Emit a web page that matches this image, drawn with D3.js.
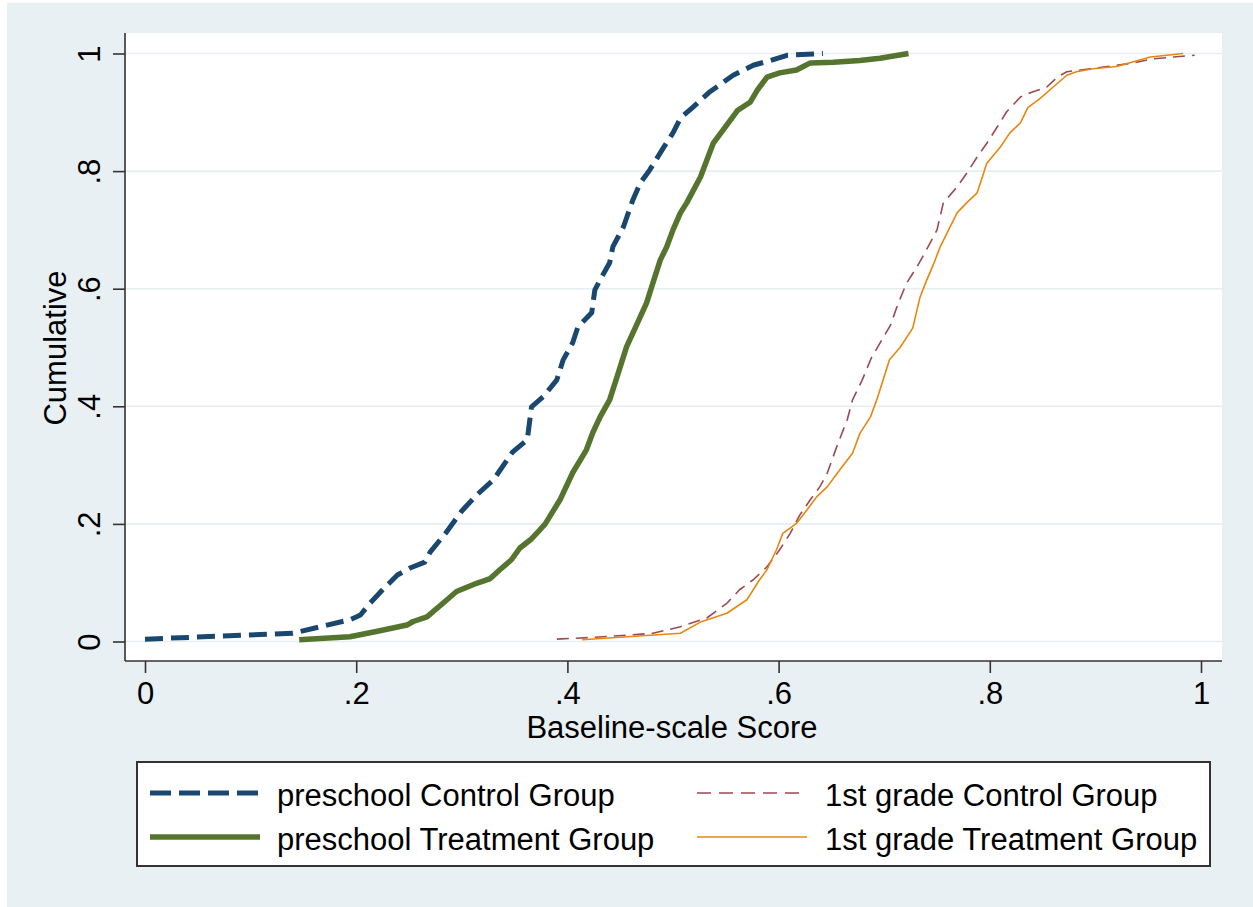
<!DOCTYPE html>
<html>
<head>
<meta charset="utf-8">
<script src="https://cdn.jsdelivr.net/npm/d3@7"></script>
<style>
  html, body { margin: 0; padding: 0; background: #ffffff; }
  svg { display: block; }
  text { font-family: "Liberation Sans", Arial, Helvetica, sans-serif; fill: #000; }
</style>
</head>
<body>
<svg id="chart" width="1253" height="907"></svg>
<script>
// ---- Data ----
const seriesNames = ["preschool Control Group", "preschool Treatment Group",
                     "1st grade Control Group", "1st grade Treatment Group"];

const xTicks = [0, 0.2, 0.4, 0.6, 0.8, 1];
const yTicks = [0, 0.2, 0.4, 0.6, 0.8, 1];
const xTickLabels = ["0", ".2", ".4", ".6", ".8", "1"];
const yTickLabels = ["0", ".2", ".4", ".6", ".8", "1"];

// preschool Control Group
const preCtrlX = [0.000, 0.140, 0.194, 0.204, 0.213, 0.225, 0.239, 0.251, 0.265, 0.270, 0.285, 0.300,
                  0.314, 0.330, 0.348, 0.362, 0.366, 0.377, 0.390, 0.396, 0.405, 0.410, 0.423, 0.426,
                  0.431, 0.440, 0.443, 0.453, 0.462, 0.469, 0.478, 0.491, 0.500, 0.507, 0.519, 0.535,
                  0.557, 0.576, 0.592, 0.608, 0.633, 0.642];
const preCtrlY = [0.004, 0.014, 0.037, 0.045, 0.065, 0.088, 0.113, 0.125, 0.135, 0.152, 0.185, 0.222,
                  0.249, 0.275, 0.322, 0.343, 0.399, 0.416, 0.445, 0.479, 0.508, 0.535, 0.559, 0.598,
                  0.615, 0.644, 0.671, 0.705, 0.751, 0.780, 0.802, 0.840, 0.865, 0.890, 0.909, 0.935,
                  0.963, 0.980, 0.988, 0.997, 0.999, 1.000];

// preschool Treatment Group
const preTrtX = [0.146, 0.194, 0.219, 0.248, 0.254, 0.267, 0.286, 0.295, 0.314, 0.327, 0.336, 0.347,
                 0.355, 0.365, 0.374, 0.379, 0.393, 0.405, 0.418, 0.424, 0.431, 0.440, 0.447, 0.456,
                 0.469, 0.475, 0.481, 0.488, 0.494, 0.500, 0.507, 0.513, 0.526, 0.538, 0.547, 0.561,
                 0.573, 0.580, 0.589, 0.601, 0.617, 0.630, 0.652, 0.677, 0.696, 0.723];
const preTrtY = [0.003, 0.008, 0.017, 0.028, 0.034, 0.042, 0.071, 0.085, 0.099, 0.107, 0.122, 0.139,
                 0.159, 0.173, 0.190, 0.200, 0.241, 0.287, 0.326, 0.355, 0.382, 0.411, 0.450, 0.501,
                 0.552, 0.576, 0.610, 0.649, 0.671, 0.700, 0.729, 0.746, 0.790, 0.847, 0.869, 0.903,
                 0.917, 0.938, 0.960, 0.967, 0.972, 0.984, 0.985, 0.988, 0.992, 1.000];

// 1st grade Control Group
const g1CtrlX = [0.390, 0.434, 0.481, 0.507, 0.532, 0.551, 0.563, 0.576, 0.589, 0.601, 0.611, 0.620,
                 0.630, 0.639, 0.646, 0.655, 0.665, 0.670, 0.679, 0.688, 0.706, 0.712, 0.721, 0.731,
                 0.740, 0.750, 0.756, 0.769, 0.778, 0.788, 0.797, 0.807, 0.816, 0.829, 0.841, 0.854,
                 0.864, 0.873, 0.895, 0.917, 0.936, 0.955, 0.974, 0.994];
const g1CtrlY = [0.004, 0.008, 0.014, 0.025, 0.040, 0.065, 0.088, 0.105, 0.127, 0.156, 0.184, 0.215,
                 0.241, 0.263, 0.286, 0.331, 0.377, 0.411, 0.444, 0.483, 0.538, 0.569, 0.609, 0.637,
                 0.666, 0.700, 0.746, 0.773, 0.796, 0.824, 0.847, 0.875, 0.901, 0.926, 0.935, 0.943,
                 0.960, 0.969, 0.974, 0.979, 0.984, 0.991, 0.994, 0.997];

// 1st grade Treatment Group
const g1TrtX = [0.414, 0.507, 0.526, 0.551, 0.570, 0.582, 0.589, 0.598, 0.604, 0.617, 0.627, 0.636,
                0.646, 0.658, 0.670, 0.677, 0.687, 0.693, 0.705, 0.715, 0.727, 0.734, 0.739, 0.747,
                0.753, 0.761, 0.769, 0.778, 0.788, 0.793, 0.797, 0.810, 0.819, 0.829, 0.836, 0.848,
                0.860, 0.873, 0.882, 0.898, 0.920, 0.936, 0.952, 0.968, 0.983];
const g1TrtY = [0.003, 0.014, 0.033, 0.048, 0.071, 0.105, 0.122, 0.156, 0.184, 0.201, 0.224, 0.246,
                0.263, 0.292, 0.320, 0.354, 0.382, 0.411, 0.479, 0.500, 0.533, 0.586, 0.609, 0.643,
                0.671, 0.700, 0.729, 0.746, 0.763, 0.790, 0.813, 0.841, 0.865, 0.882, 0.908, 0.924,
                0.943, 0.963, 0.969, 0.974, 0.978, 0.986, 0.994, 0.997, 1.000];

// ---- Drawing ----
const W = 1253, H = 907;
const FS = "31px";
const svg = d3.select("#chart");

// outer background
svg.append("rect").attr("x", 0).attr("y", 0).attr("width", W).attr("height", H).attr("fill", "#ffffff");
svg.append("rect").attr("x", 7).attr("y", 3).attr("width", W - 7).attr("height", H - 3).attr("fill", "#e9f0f3");

const plot = { left: 125, right: 1222, top: 33, bottom: 661 };

const x = d3.scaleLinear().domain([0, 1]).range([145, 1201]);
const y = d3.scaleLinear().domain([0, 1]).range([641.5, 53.5]);

// plot region
svg.append("rect")
  .attr("x", plot.left).attr("y", plot.top)
  .attr("width", plot.right - plot.left).attr("height", plot.bottom - plot.top)
  .attr("fill", "#ffffff");

// gridlines
svg.append("g").selectAll("line").data(yTicks).join("line")
  .attr("x1", plot.left).attr("x2", plot.right)
  .attr("y1", d => y(d)).attr("y2", d => y(d))
  .attr("stroke", "#e6eef1").attr("stroke-width", 1.6);

// series
const styles = [
  { color: "#1a476f", width: 5, dash: "18,8" },
  { color: "#55752f", width: 5.5, dash: null },
  { color: "#9c4a50", width: 1.6, dash: "12,7" },
  { color: "#e8870e", width: 1.6, dash: null }
];
const seriesData = [
  [preCtrlX, preCtrlY],
  [preTrtX, preTrtY],
  [g1CtrlX, g1CtrlY],
  [g1TrtX, g1TrtY]
];

const line = d3.line().x(d => x(d[0])).y(d => y(d[1]));

seriesData.forEach((s, i) => {
  const pts = s[0].map((v, k) => [v, s[1][k]]);
  const p = svg.append("path")
    .datum(pts)
    .attr("d", line)
    .attr("fill", "none")
    .attr("stroke", styles[i].color)
    .attr("stroke-width", styles[i].width)
    .attr("stroke-linejoin", "round");
  if (styles[i].dash) p.attr("stroke-dasharray", styles[i].dash);
});

// axes
const axisColor = "#333333";
const gx = svg.append("g").attr("transform", `translate(0,${plot.bottom})`)
  .call(d3.axisBottom(x).tickValues(xTicks).tickFormat((d, i) => xTickLabels[i]).tickSize(12).tickSizeOuter(0));
gx.select(".domain").attr("d", `M${plot.left},0H${plot.right}`).attr("stroke", axisColor).attr("stroke-width", 1.6);
gx.selectAll(".tick line").attr("stroke", axisColor).attr("stroke-width", 1.6);
gx.selectAll(".tick text").attr("y", 43).attr("dy", 0)
  .style("font-size", FS).style("font-family", "Liberation Sans, Arial, sans-serif").attr("fill", "#000");

const gy = svg.append("g").attr("transform", `translate(${plot.left},0)`)
  .call(d3.axisLeft(y).tickValues(yTicks).tickFormat((d, i) => yTickLabels[i]).tickSize(12).tickSizeOuter(0));
gy.select(".domain").attr("d", `M0,${plot.top}V${plot.bottom}`).attr("stroke", axisColor).attr("stroke-width", 1.6);
gy.selectAll(".tick line").attr("stroke", axisColor).attr("stroke-width", 1.6);
gy.selectAll(".tick text")
  .attr("x", 0).attr("y", -25).attr("dy", 0)
  .attr("text-anchor", "middle")
  .attr("transform", "rotate(-90)")
  .style("font-size", FS).style("font-family", "Liberation Sans, Arial, sans-serif").attr("fill", "#000");
gx.attr("font-family", null).attr("font-size", null);
gy.attr("font-family", null).attr("font-size", null);

// axis titles
svg.append("text")
  .attr("transform", "translate(66,348) rotate(-90)")
  .attr("text-anchor", "middle")
  .style("font-size", FS)
  .text("Cumulative");

svg.append("text")
  .attr("x", 672).attr("y", 738)
  .attr("text-anchor", "middle")
  .style("font-size", FS)
  .text("Baseline-scale Score");

// legend
const lg = svg.append("g");
lg.append("rect")
  .attr("x", 137).attr("y", 762).attr("width", 1073).attr("height", 104)
  .attr("fill", "#ffffff").attr("stroke", "#333333").attr("stroke-width", 2);

const legendPos = [
  { x0: 150, x1: 260, tx: 277, ly: 793, ty: 806 },
  { x0: 150, x1: 260, tx: 277, ly: 837, ty: 850 },
  { x0: 697, x1: 807, tx: 825, ly: 793, ty: 806 },
  { x0: 697, x1: 807, tx: 825, ly: 837, ty: 850 }
];
seriesNames.forEach((name, i) => {
  const p = legendPos[i];
  const l = lg.append("line")
    .attr("x1", p.x0).attr("x2", p.x1).attr("y1", p.ly).attr("y2", p.ly)
    .attr("stroke", styles[i].color).attr("stroke-width", styles[i].width);
  if (styles[i].dash) l.attr("stroke-dasharray", i === 0 ? "21,8" : "14,8");
  lg.append("text").attr("x", p.tx).attr("y", p.ty)
    .style("font-size", FS).text(name);
});
</script>
</body>
</html>
